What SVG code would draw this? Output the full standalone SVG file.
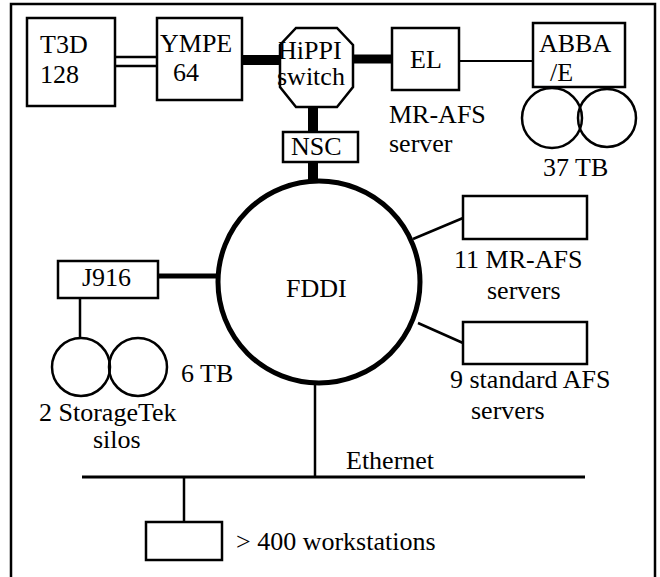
<svg xmlns="http://www.w3.org/2000/svg" width="660" height="577" viewBox="0 0 660 577">
<style>
.b{fill:#fff;stroke:#000;stroke-width:2.5}
.o{fill:none;stroke:#000;stroke-width:2.5}
.t{font-size:26px;fill:#000}
.l{stroke:#000;fill:none}
</style>
<rect x="0" y="0" width="660" height="577" fill="#fff"/>
<rect id="frame" x="11" y="4" width="644" height="600" fill="none" stroke="#000" stroke-width="2.5"/>
<g id="connectors">
<line class="l" x1="115" y1="57" x2="157" y2="57" stroke-width="2.5"/>
<line class="l" x1="115" y1="66" x2="157" y2="66" stroke-width="2.5"/>
<line class="l" x1="242" y1="60" x2="281" y2="60" stroke-width="10"/>
<line class="l" x1="352" y1="59" x2="392" y2="59" stroke-width="9"/>
<line class="l" x1="459" y1="61" x2="534" y2="61" stroke-width="2"/>
<line class="l" x1="313" y1="106" x2="313" y2="133" stroke-width="10"/>
<line class="l" x1="313" y1="161" x2="313" y2="184" stroke-width="10"/>
<line class="l" x1="158" y1="276" x2="218" y2="276" stroke-width="5"/>
<line class="l" x1="80" y1="298" x2="80" y2="338" stroke-width="2.5"/>
<line class="l" x1="413" y1="239" x2="463" y2="218" stroke-width="2.5"/>
<line class="l" x1="418" y1="323" x2="463" y2="343" stroke-width="2.5"/>
<line class="l" x1="315" y1="384" x2="315" y2="477" stroke-width="2.5"/>
<line class="l" x1="82" y1="477" x2="585" y2="477" stroke-width="3"/>
<line class="l" x1="184" y1="477" x2="184" y2="522" stroke-width="2.5"/>
</g>
<g font-family="'Liberation Serif', 'Times New Roman', Tinos, 'DejaVu Serif', serif">
<g id="t3d"><rect class="b" x="27" y="18" width="88" height="88"/><text class="t" x="40" y="53">T3D</text><text class="t" x="40" y="83">128</text></g>
<g id="ympe"><rect class="b" x="157" y="18" width="85" height="82"/><text class="t" x="160" y="52">YMPE</text><text class="t" x="173" y="81">64</text></g>
<g id="hippi"><polygon class="b" points="296,28 337,28 353,45 353,87 337,107 296,107 280,87 280,45"/><text class="t" x="278" y="59">HiPPI</text><text class="t" x="277" y="85">switch</text></g>
<g id="nsc"><rect class="b" x="283" y="132" width="75" height="30"/><text class="t" x="291" y="155">NSC</text></g>
<g id="el"><rect class="b" x="392" y="28" width="67" height="62"/><text class="t" x="410" y="68">EL</text><text class="t" x="389" y="123">MR-AFS</text><text class="t" x="389" y="152">server</text></g>
<g id="abba"><rect class="b" x="533" y="23" width="92" height="64"/><text class="t" x="539" y="52">ABBA</text><text class="t" x="550" y="81">/E</text>
<circle class="o" cx="552" cy="118" r="30"/><circle class="o" cx="607" cy="118" r="29"/><text class="t" x="543" y="176">37 TB</text></g>
<g id="fddi"><circle cx="319" cy="282" r="101" fill="#fff" stroke="#000" stroke-width="5"/><text class="t" x="286" y="297">FDDI</text></g>
<g id="j916"><rect class="b" x="58" y="261" width="100" height="37"/><text class="t" x="82" y="286">J916</text>
<circle class="o" cx="81" cy="367" r="29"/><circle class="o" cx="138" cy="367" r="29"/><text class="t" x="181" y="382">6 TB</text>
<text class="t" x="39" y="421">2 StorageTek</text><text class="t" x="93" y="448">silos</text></g>
<g id="mrafs"><rect class="b" x="463" y="196" width="124" height="43"/><text class="t" x="454" y="268">11 MR-AFS</text><text class="t" x="487" y="299">servers</text></g>
<g id="stdafs"><rect class="b" x="463" y="322" width="124" height="42"/><text class="t" x="450" y="388">9 standard AFS</text><text class="t" x="471" y="419">servers</text></g>
<g id="ethernet"><text class="t" x="346" y="469">Ethernet</text></g>
<g id="ws"><rect class="b" x="146" y="522" width="76" height="38"/><text class="t" x="236" y="550">&gt; 400 workstations</text></g>
</g>
</svg>
